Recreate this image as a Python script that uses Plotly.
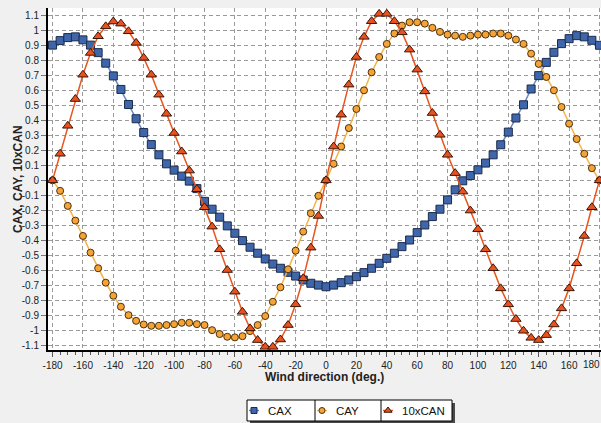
import plotly.graph_objects as go

# Wind direction (deg.), sampled every 5 degrees
angles = list(range(-180, 181, 5))

cax = [0.90, 0.93, 0.95, 0.955, 0.935, 0.90, 0.85, 0.78, 0.695, 0.605,
       0.505, 0.41, 0.318, 0.238, 0.17, 0.11, 0.068, 0.028, -0.005, -0.055,
       -0.14, -0.192, -0.245, -0.303, -0.352, -0.401, -0.445, -0.485, -0.523, -0.557,
       -0.585, -0.612, -0.637, -0.663, -0.685, -0.697, -0.708, -0.697, -0.681, -0.663,
       -0.641, -0.614, -0.585, -0.552, -0.519, -0.485, -0.441, -0.397, -0.348, -0.297,
       -0.241, -0.192, -0.13, -0.063, -0.003, 0.032, 0.07, 0.115, 0.17, 0.237,
       0.321, 0.415, 0.503, 0.608, 0.697, 0.785, 0.852, 0.91, 0.943, 0.963,
       0.955, 0.932, 0.899]

cay = [0.0, -0.07, -0.17, -0.268, -0.37, -0.481, -0.585, -0.681, -0.768, -0.841,
       -0.897, -0.935, -0.959, -0.968, -0.968, -0.963, -0.957, -0.948, -0.948, -0.957,
       -0.963, -0.997, -1.023, -1.041, -1.045, -1.037, -1.003, -0.963, -0.903, -0.808,
       -0.712, -0.592, -0.468, -0.341, -0.219, -0.103, 0.0, 0.11, 0.225, 0.348,
       0.475, 0.599, 0.719, 0.821, 0.908, 0.977, 1.03, 1.052, 1.052, 1.043,
       1.015, 0.988, 0.97, 0.963, 0.955, 0.963, 0.97, 0.97, 0.977, 0.977,
       0.963, 0.937, 0.908, 0.843, 0.775, 0.688, 0.599, 0.488, 0.377, 0.275,
       0.177, 0.081, 0.0]

can10 = [0.0, 0.177, 0.363, 0.541, 0.703, 0.848, 0.959, 1.025, 1.057, 1.043,
         0.992, 0.915, 0.815, 0.703, 0.57, 0.443, 0.315, 0.192, 0.065, -0.059,
         -0.179, -0.308, -0.459, -0.597, -0.741, -0.875, -0.985, -1.063, -1.108, -1.108,
         -1.059, -0.963, -0.825, -0.652, -0.448, -0.237, 0.0, 0.225, 0.437, 0.637,
         0.821, 0.955, 1.059, 1.108, 1.108, 1.059, 0.985, 0.87, 0.737, 0.592,
         0.448, 0.303, 0.17, 0.048, -0.075, -0.201, -0.325, -0.459, -0.585, -0.719,
         -0.825, -0.923, -1.001, -1.048, -1.063, -1.03, -0.959, -0.852, -0.719, -0.552,
         -0.37, -0.179, 0.0]

x_ticks = [-180, -160, -140, -120, -100, -80, -60, -40, -20, 0,
           20, 40, 60, 80, 100, 120, 140, 160, 180]
x_labels = ["-180", "-160", "-140", "-120", "-100", "-80", "-60", "-40", "-20", "0",
            "20", "40", "60", "80", "100", "120", "140", "160", "180"]
y_ticks = [-1.1, -1.0, -0.9, -0.8, -0.7, -0.6, -0.5, -0.4, -0.3, -0.2, -0.1, 0.0,
           0.1, 0.2, 0.3, 0.4, 0.5, 0.6, 0.7, 0.8, 0.9, 1.0, 1.1]
y_labels = ["-1.1", "-1", "-0.9", "-0.8", "-0.7", "-0.6", "-0.5", "-0.4", "-0.3", "-0.2",
            "-0.1", "0", "0.1", "0.2", "0.3", "0.4", "0.5", "0.6", "0.7", "0.8", "0.9",
            "1", "1.1"]

series_names = ["CAX", "CAY", "10xCAN"]

W, H = 601, 423
ML, MR, MT, MB = 48, 0, 8, 0
PW, PH = W - ML - MR, H - MT - MB


def px_x(px):
    return (px - ML) / PW


def px_y(py):
    return (H - MB - py) / PH


FONT = "Liberation Sans, Arial, sans-serif"
BLUE_FILL, BLUE_LINE = "#3f66ab", "#6688c4"
ORANGE_FILL, ORANGE_LINE = "#f5a236", "#f3b24a"
RED_FILL, RED_LINE = "#e8521f", "#e6561f"

fig = go.Figure()

fig.add_trace(go.Scatter(
    x=angles, y=cax, name=series_names[0], mode="lines+markers",
    line=dict(color=BLUE_LINE, width=1.5),
    marker=dict(symbol="square", size=8, color=BLUE_FILL,
                line=dict(color="#1b2b4a", width=1)),
))
fig.add_trace(go.Scatter(
    x=angles, y=cay, name=series_names[1], mode="lines+markers",
    line=dict(color=ORANGE_LINE, width=1.5),
    marker=dict(symbol="circle", size=7, color=ORANGE_FILL,
                line=dict(color="#4a3210", width=1)),
))
fig.add_trace(go.Scatter(
    x=angles, y=can10, name=series_names[2], mode="lines+markers",
    line=dict(color=RED_LINE, width=1.5),
    marker=dict(symbol="triangle-up", size=9, color=RED_FILL,
                line=dict(color="#3a1608", width=1)),
))

# Boxed legend drawn in its own small subplot (pixel units)
LEG_X0, LEG_X1, LEG_Y0, LEG_Y1 = 247, 452, 400, 421
cells = [(247, 315), (315, 381), (381, 452)]
leg_y = 410.5
leg_styles = [
    ("square", 6, BLUE_FILL, "#1b2b4a", BLUE_LINE),
    ("circle", 6, ORANGE_FILL, "#4a3210", ORANGE_LINE),
    ("triangle-up", 7, RED_FILL, "#3a1608", RED_LINE),
]
for (c0, c1), (sym, sz, fill, edge, lcol) in zip(cells, leg_styles):
    cx = c0 + 7
    fig.add_trace(go.Scatter(
        x=[cx - 5, cx + 5], y=[leg_y, leg_y], mode="lines",
        line=dict(color=lcol, width=1.5), xaxis="x2", yaxis="y2",
        hoverinfo="skip", showlegend=False))
    fig.add_trace(go.Scatter(
        x=[cx], y=[leg_y], mode="markers",
        marker=dict(symbol=sym, size=sz, color=fill, line=dict(color=edge, width=1)),
        xaxis="x2", yaxis="y2", hoverinfo="skip", showlegend=False))

shapes = []
# shadow of the legend box
shapes.append(dict(type="rect", xref="paper", yref="paper",
                   x0=px_x(LEG_X1), x1=px_x(LEG_X1 + 3), y0=px_y(LEG_Y0 + 3), y1=px_y(LEG_Y1 + 3),
                   fillcolor="#4a4a4a", line=dict(width=0), layer="above"))
shapes.append(dict(type="rect", xref="paper", yref="paper",
                   x0=px_x(LEG_X0 + 3), x1=px_x(LEG_X1 + 3), y0=px_y(LEG_Y1), y1=px_y(LEG_Y1 + 3),
                   fillcolor="#4a4a4a", line=dict(width=0), layer="above"))
shapes.append(dict(type="rect", xref="paper", yref="paper",
                   x0=px_x(LEG_X0), x1=px_x(LEG_X1), y0=px_y(LEG_Y1), y1=px_y(LEG_Y0),
                   line=dict(color="#000000", width=1), layer="above"))
for c0, c1 in cells[1:]:
    shapes.append(dict(type="line", xref="paper", yref="paper",
                       x0=px_x(c0), x1=px_x(c0), y0=px_y(LEG_Y1), y1=px_y(LEG_Y0),
                       line=dict(color="#000000", width=1), layer="above"))

annotations = []
for (c0, c1), name in zip(cells, series_names):
    annotations.append(dict(
        text=name, x=px_x(c0 + 19), y=px_y(leg_y), xref="paper", yref="paper",
        xanchor="left", yanchor="middle", showarrow=False,
        font=dict(family=FONT, size=11.5, color="#111111")))
annotations.append(dict(
    text="<b>Wind direction (deg.)</b>", x=px_x(324), y=px_y(377), xref="paper", yref="paper",
    xanchor="center", yanchor="middle", showarrow=False,
    font=dict(family=FONT, size=12, color="#222222")))
annotations.append(dict(
    text="<b>CAX, CAY, 10xCAN</b>", x=px_x(18), y=px_y(179), xref="paper", yref="paper",
    xanchor="center", yanchor="middle", showarrow=False, textangle=-90,
    font=dict(family=FONT, size=12, color="#222222")))
# last x tick label sits at the right edge; anchor it right so it stays inside
annotations.append(dict(
    text=x_labels[-1], x=1.0, y=px_y(364), xref="paper", yref="paper",
    xanchor="right", yanchor="middle", showarrow=False, borderpad=0,
    font=dict(family=FONT, size=10, color="#222222")))

grid = dict(showgrid=True, gridcolor="#9a9a9a", gridwidth=1, griddash="4px,3px")

fig.update_layout(
    width=W, height=H,
    margin=dict(l=ML, r=MR, t=MT, b=MB, pad=0),
    paper_bgcolor="#f0f0f0", plot_bgcolor="#ffffff",
    showlegend=False,
    font=dict(family=FONT, size=10, color="#222222"),
    xaxis=dict(
        domain=[0, 1], range=[-183.0, 181.0], anchor="y",
        tickmode="array", tickvals=x_ticks, ticktext=x_labels,
        ticks="outside", ticklen=5, tickcolor="#555555",
        minor=dict(dtick=5, ticks="outside", ticklen=3, tickcolor="#555555", showgrid=False),
        showline=True, linecolor="#000000", linewidth=2,
        zeroline=False, **grid),
    yaxis=dict(
        domain=[px_y(350), 1], range=[-1.129, 1.147], anchor="x",
        tickmode="array", tickvals=y_ticks, ticktext=y_labels,
        ticks="outside", ticklen=5, tickcolor="#777777",
        showline=True, linecolor="#000000", linewidth=2,
        zeroline=False, **grid),
    xaxis2=dict(domain=[px_x(LEG_X0), px_x(LEG_X1)], range=[LEG_X0, LEG_X1],
                anchor="y2", visible=False, fixedrange=True),
    yaxis2=dict(domain=[px_y(LEG_Y1), px_y(LEG_Y0)], range=[LEG_Y1, LEG_Y0],
                anchor="x2", visible=False, fixedrange=True),
    shapes=shapes,
    annotations=annotations,
)

fig.write_html("out.html")
